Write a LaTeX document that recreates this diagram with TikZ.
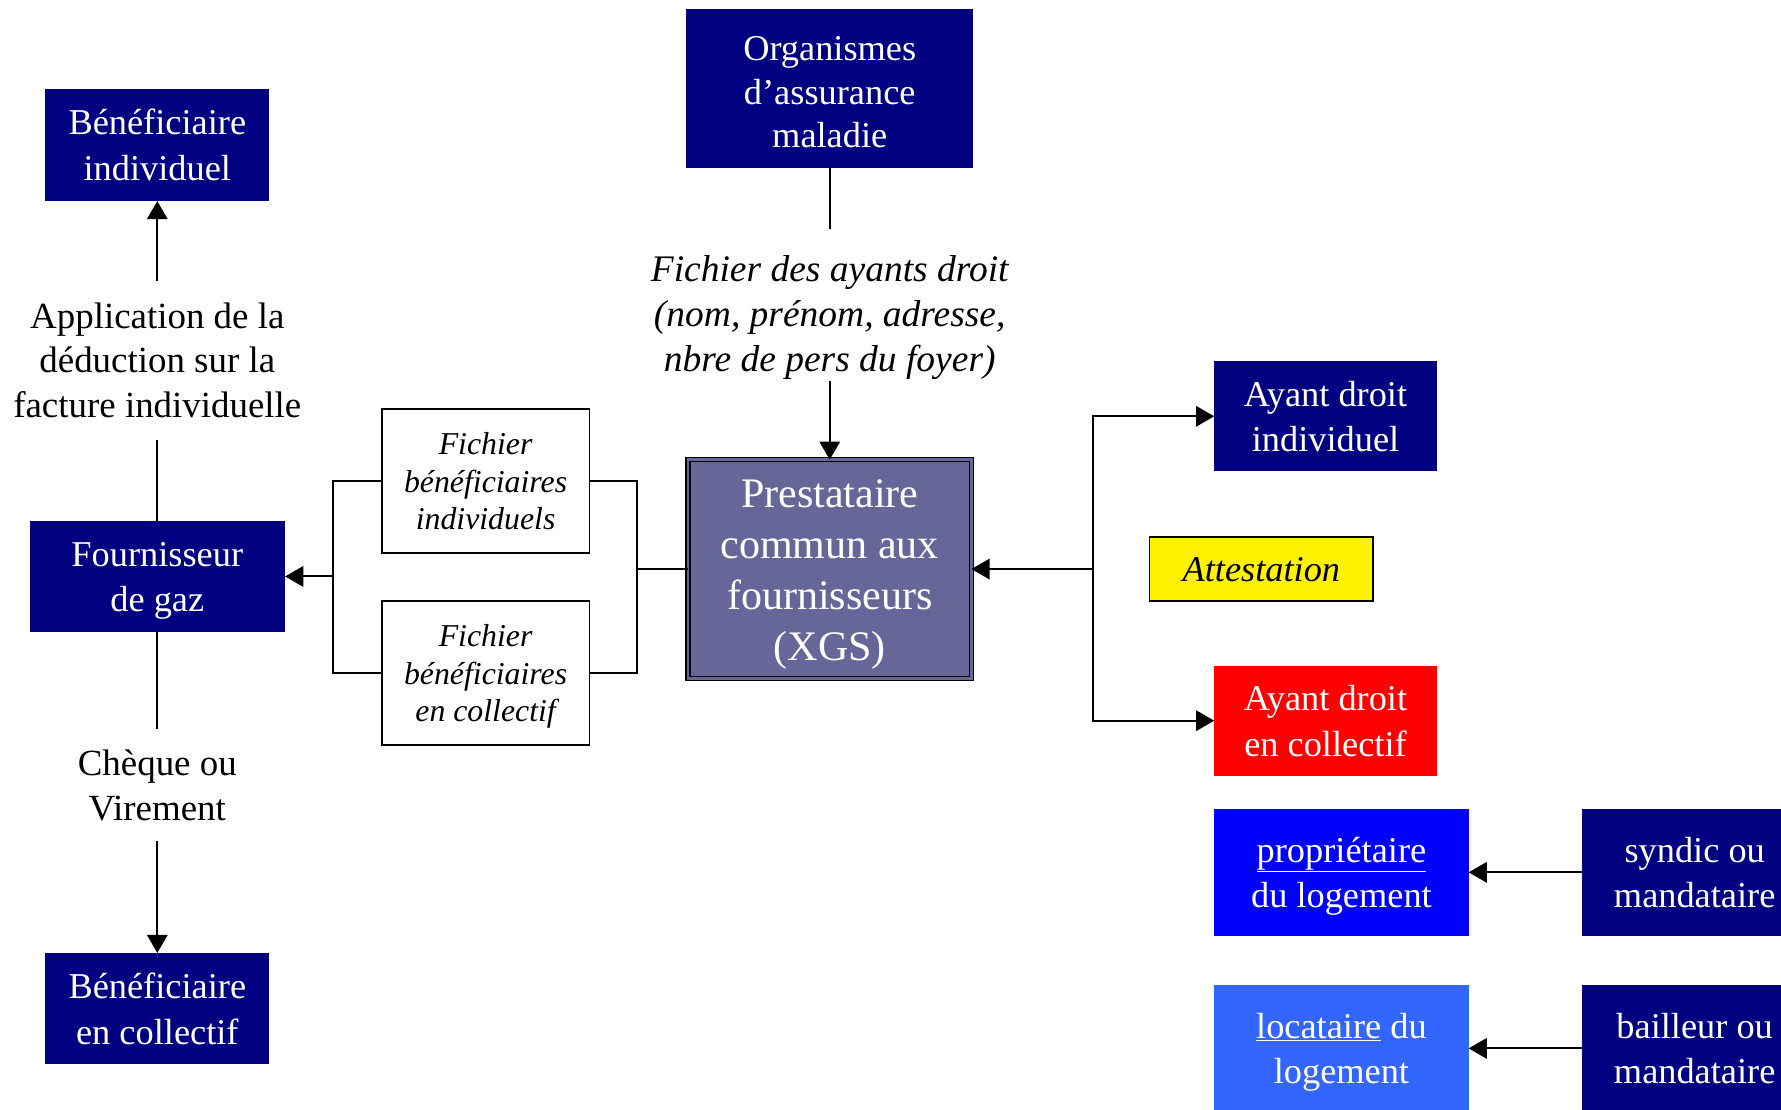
\documentclass[tikz,border=0pt]{standalone}
\usepackage{fontspec}
\setmainfont{Liberation Serif}
\usetikzlibrary{arrows.meta}
\definecolor{navy}{RGB}{0,0,128}
\definecolor{prestfill}{RGB}{102,102,153}
\definecolor{locblue}{RGB}{51,102,255}
\newcommand\fst{\rule{0pt}{0.95em}}
\newcommand\lst{\rule[-0.25em]{0pt}{0.25em}}
\newcommand\fstbig{\rule{0pt}{1.4em}}
\begin{document}
\begin{tikzpicture}[x=1pt,y=-1pt,
  base/.style={inner sep=0pt, outer sep=0pt, align=center, font=\fontsize{32}{40}\selectfont},
  navybox/.style={base, fill=navy, text=white},
  filebox/.style={base, draw=black, line width=1.6pt, fill=white, font=\fontsize{28}{33}\selectfont\itshape},
  lab/.style={base, font=\fontsize{32.5}{39.5}\selectfont},
  conn/.style={line width=1.8pt},
  arr/.style={conn, -{Triangle[length=16pt,width=18pt]}}
]
\useasboundingbox (0,0) rectangle (1568,977);
\begin{scope}
\clip (0,0) rectangle (1568,977);
% left column
\node[navybox, minimum width=197, minimum height=99] (benind) at (138.5,127.5) {\fst Bénéficiaire\\individuel\lst};
\node[navybox, minimum width=225, minimum height=97] (fourn) at (138.5,507.5) {\fst Fournisseur\\de gaz\lst};
\node[navybox, minimum width=197, minimum height=98] (bencol) at (138.5,888) {\fst Bénéficiaire\\en collectif\lst};
\node[lab, minimum width=200, minimum height=140] (lapp) at (138.5,317) {\fst Application de la\\déduction sur la\\facture individuelle\lst};
\node[lab, minimum width=150, minimum height=99] (lcheq) at (138.5,691) {\fst Chèque ou\\Virement\lst};
% files
\node[filebox, minimum width=183, minimum height=127] (fichind) at (427.5,423.5) {\fst Fichier\\bénéficiaires\\individuels\lst};
\node[filebox, minimum width=183, minimum height=127] (fichcol) at (427.5,592.5) {\fst Fichier\\bénéficiaires\\en collectif\lst};
% center
\node[navybox, font=\fontsize{32}{38}\selectfont, minimum width=253, minimum height=140] (org) at (730.5,78) {\rule{0pt}{1.1em}Organismes\\d’assurance\\maladie\lst};
\node[lab, font=\fontsize{33}{40}\selectfont\itshape, minimum width=300, minimum height=127] (lfich) at (730.5,268.5) {\fstbig Fichier des ayants droit\\(nom, prénom, adresse,\\nbre de pers du foyer)\lst};
\node[base, font=\fontsize{37}{45}\selectfont, fill=prestfill, text=white, draw=black, line width=1.2pt, double=prestfill, double distance=2.2pt, minimum width=249.5, minimum height=192.5] (prest) at (730.5,501) {\fst Prestataire\\commun aux\\fournisseurs\\(XGS)\lst};
% right
\node[navybox, minimum width=196, minimum height=97] (adind) at (1167,366.5) {\fst Ayant droit\\individuel\lst};
\node[base, fill=yellow, draw=black, line width=1.4pt, font=\fontsize{32}{40}\selectfont\itshape, minimum width=197, minimum height=56] (attest) at (1110.5,501) {\fst Attestation\lst};
\node[base, fill=red, text=white, minimum width=196, minimum height=97] (adcol) at (1167,634.5) {\fst Ayant droit\\en collectif\lst};
\node[base, fill=blue, text=white, minimum width=224, minimum height=112] (prop) at (1181,768) {\fst\underline{propriétaire}\\du logement\lst};
\node[navybox, minimum width=198, minimum height=112] (syndic) at (1492,768) {\fst syndic ou\\mandataire\lst};
\node[base, fill=locblue, text=white, minimum width=224, minimum height=112] (loc) at (1181,923) {\fst\underline{locataire} du\\logement\lst};
\node[navybox, minimum width=198, minimum height=112] (bail) at (1492,923) {\fst bailleur ou\\mandataire\lst};
% coordinates
\coordinate (lb) at (293,507.5);
\coordinate (rb) at (561,501);
\coordinate (rr) at (962,501);
% connectors
\draw[conn] (org.south) -- (lfich.north);
\draw[arr] (lfich.south) -- (prest.north);
\draw[conn] (fourn.north) -- (lapp.south);
\draw[arr] (lapp.north) -- (benind.south);
\draw[conn] (fourn.south) -- (lcheq.north);
\draw[arr] (lcheq.south) -- (bencol.north);
\draw[conn] (fichind.west) -| (lb) |- (fichcol.west);
\draw[arr] (lb) -- (fourn.east);
\draw[conn] (fichind.east) -| (rb) |- (fichcol.east);
\draw[conn] (rb) -- (prest.west);
\draw[arr] (rr) -- (prest.east);
\draw[arr] (rr) |- (adind.west);
\draw[arr] (rr) |- (adcol.west);
\draw[arr] (syndic.west) -- (prop.east);
\draw[arr] (bail.west) -- (loc.east);
\end{scope}
\end{tikzpicture}
\end{document}
